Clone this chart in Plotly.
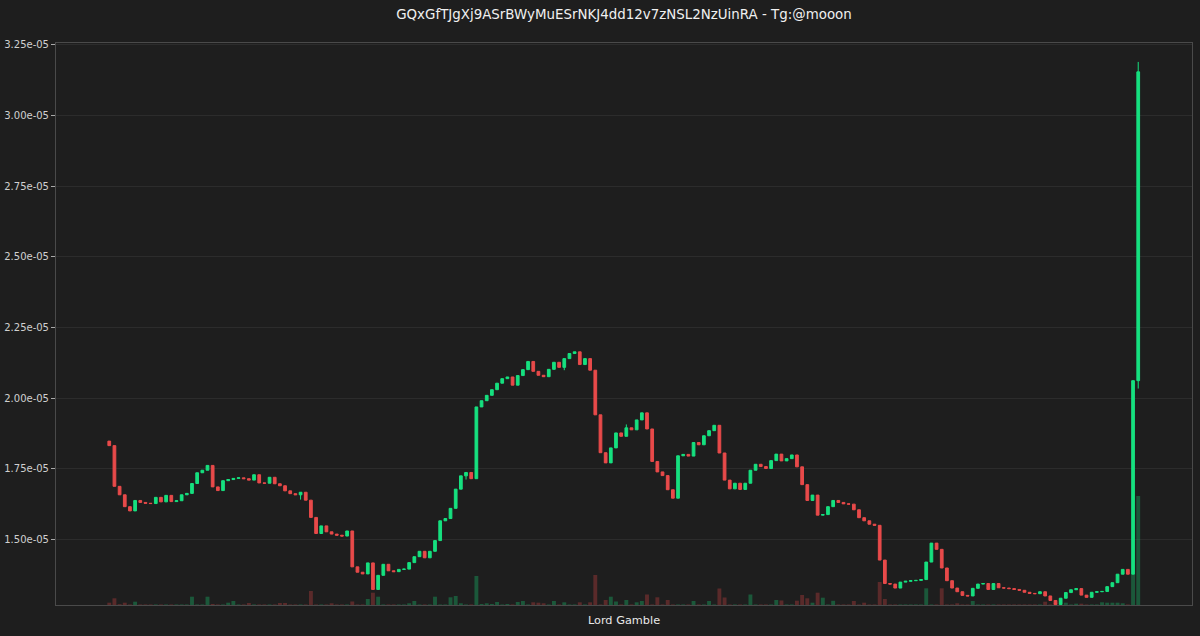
import plotly.graph_objects as go

title_text = "GQxGfTJgXj9ASrBWyMuESrNKJ4dd12v7zNSL2NzUinRA - Tg:@mooon"
xaxis_label = "Lord Gamble"

# prices in units of 1e-5
opens = [
1.848, 1.832, 1.688, 1.658, 1.616, 1.601, 1.638, 1.631, 1.628, 1.627,
1.649, 1.633, 1.656, 1.634, 1.637, 1.658, 1.663, 1.698, 1.736, 1.745,
1.762, 1.686, 1.673, 1.708, 1.712, 1.716, 1.718, 1.715, 1.710, 1.729,
1.700, 1.699, 1.720, 1.697, 1.690, 1.672, 1.662, 1.658, 1.667, 1.639,
1.578, 1.521, 1.548, 1.527, 1.519, 1.515, 1.512, 1.530, 1.403, 1.384,
1.378, 1.417, 1.323, 1.373, 1.412, 1.389, 1.386, 1.394, 1.395, 1.418,
1.439, 1.458, 1.435, 1.458, 1.496, 1.566, 1.574, 1.610, 1.678, 1.725,
1.737, 1.715, 1.969, 1.991, 2.010, 2.030, 2.053, 2.069, 2.075, 2.046,
2.080, 2.101, 2.130, 2.095, 2.081, 2.076, 2.102, 2.127, 2.109, 2.140,
2.158, 2.164, 2.119, 2.140, 2.099, 1.941, 1.807, 1.771, 1.824, 1.877,
1.865, 1.895, 1.888, 1.923, 1.948, 1.891, 1.776, 1.739, 1.726, 1.676,
1.646, 1.796, 1.801, 1.795, 1.843, 1.835, 1.867, 1.885, 1.904, 1.806,
1.710, 1.679, 1.699, 1.677, 1.699, 1.745, 1.766, 1.758, 1.751, 1.779,
1.802, 1.778, 1.786, 1.799, 1.757, 1.694, 1.638, 1.657, 1.586, 1.588,
1.616, 1.638, 1.631, 1.626, 1.625, 1.605, 1.577, 1.566, 1.554, 1.550,
1.427, 1.344, 1.342, 1.328, 1.349, 1.352, 1.354, 1.355, 1.358, 1.420,
1.487, 1.465, 1.399, 1.354, 1.328, 1.315, 1.302, 1.300, 1.327, 1.342,
1.344, 1.323, 1.344, 1.329, 1.328, 1.326, 1.323, 1.320, 1.313, 1.309,
1.308, 1.315, 1.300, 1.284, 1.270, 1.292, 1.312, 1.322, 1.326, 1.303,
1.295, 1.313, 1.315, 1.316, 1.333, 1.347, 1.377, 1.394, 1.377, 2.062,
]

closes = [
1.832, 1.688, 1.658, 1.616, 1.601, 1.638, 1.631, 1.628, 1.627, 1.649,
1.633, 1.656, 1.634, 1.637, 1.658, 1.663, 1.698, 1.736, 1.745, 1.762,
1.686, 1.673, 1.708, 1.712, 1.716, 1.718, 1.715, 1.710, 1.729, 1.700,
1.699, 1.720, 1.697, 1.690, 1.672, 1.662, 1.658, 1.667, 1.639, 1.578,
1.521, 1.548, 1.527, 1.519, 1.515, 1.512, 1.530, 1.403, 1.384, 1.378,
1.417, 1.323, 1.373, 1.412, 1.389, 1.386, 1.394, 1.395, 1.418, 1.439,
1.458, 1.435, 1.458, 1.496, 1.566, 1.574, 1.610, 1.678, 1.725, 1.737,
1.715, 1.969, 1.991, 2.010, 2.030, 2.053, 2.069, 2.075, 2.046, 2.080,
2.101, 2.130, 2.095, 2.081, 2.076, 2.102, 2.127, 2.109, 2.140, 2.158,
2.164, 2.119, 2.140, 2.099, 1.941, 1.807, 1.771, 1.824, 1.877, 1.865,
1.895, 1.888, 1.923, 1.948, 1.891, 1.776, 1.739, 1.726, 1.676, 1.646,
1.796, 1.801, 1.795, 1.843, 1.835, 1.867, 1.885, 1.904, 1.806, 1.710,
1.679, 1.699, 1.677, 1.699, 1.745, 1.766, 1.758, 1.751, 1.779, 1.802,
1.778, 1.786, 1.799, 1.757, 1.694, 1.638, 1.657, 1.586, 1.588, 1.616,
1.638, 1.631, 1.626, 1.625, 1.605, 1.577, 1.566, 1.554, 1.550, 1.427,
1.344, 1.342, 1.328, 1.349, 1.352, 1.354, 1.355, 1.358, 1.420, 1.487,
1.465, 1.399, 1.354, 1.328, 1.315, 1.302, 1.300, 1.327, 1.342, 1.344,
1.323, 1.344, 1.329, 1.328, 1.326, 1.323, 1.320, 1.313, 1.309, 1.308,
1.315, 1.300, 1.284, 1.270, 1.292, 1.312, 1.322, 1.326, 1.303, 1.295,
1.313, 1.315, 1.316, 1.333, 1.347, 1.377, 1.394, 1.377, 2.062, 3.155,
]

highs = [
1.848, 1.832, 1.688, 1.658, 1.616, 1.638, 1.638, 1.631, 1.628, 1.649,
1.649, 1.656, 1.656, 1.637, 1.658, 1.663, 1.698, 1.736, 1.745, 1.762,
1.762, 1.686, 1.708, 1.712, 1.716, 1.718, 1.718, 1.715, 1.729, 1.729,
1.700, 1.720, 1.720, 1.697, 1.690, 1.672, 1.662, 1.667, 1.667, 1.639,
1.578, 1.548, 1.548, 1.527, 1.519, 1.515, 1.530, 1.530, 1.403, 1.384,
1.417, 1.417, 1.373, 1.412, 1.412, 1.389, 1.394, 1.395, 1.418, 1.439,
1.458, 1.458, 1.458, 1.496, 1.566, 1.574, 1.610, 1.678, 1.725, 1.737,
1.737, 1.969, 1.991, 2.010, 2.030, 2.053, 2.069, 2.075, 2.075, 2.080,
2.101, 2.130, 2.130, 2.095, 2.081, 2.102, 2.127, 2.127, 2.140, 2.158,
2.164, 2.164, 2.140, 2.140, 2.099, 1.941, 1.807, 1.824, 1.877, 1.877,
1.907, 1.895, 1.923, 1.948, 1.948, 1.891, 1.776, 1.739, 1.726, 1.676,
1.796, 1.801, 1.801, 1.843, 1.843, 1.867, 1.885, 1.904, 1.904, 1.806,
1.710, 1.699, 1.699, 1.699, 1.745, 1.766, 1.766, 1.758, 1.779, 1.802,
1.802, 1.786, 1.799, 1.799, 1.757, 1.694, 1.657, 1.657, 1.588, 1.616,
1.638, 1.638, 1.631, 1.626, 1.625, 1.605, 1.577, 1.566, 1.554, 1.550,
1.427, 1.344, 1.342, 1.349, 1.352, 1.354, 1.355, 1.358, 1.420, 1.487,
1.487, 1.465, 1.399, 1.354, 1.328, 1.315, 1.302, 1.327, 1.342, 1.344,
1.344, 1.344, 1.344, 1.329, 1.328, 1.326, 1.323, 1.320, 1.313, 1.309,
1.315, 1.315, 1.300, 1.284, 1.292, 1.312, 1.322, 1.326, 1.326, 1.303,
1.313, 1.315, 1.316, 1.333, 1.347, 1.377, 1.394, 1.394, 2.062, 3.190,
]

lows = [
1.832, 1.688, 1.658, 1.616, 1.601, 1.601, 1.631, 1.628, 1.627, 1.627,
1.633, 1.633, 1.634, 1.634, 1.637, 1.658, 1.663, 1.698, 1.736, 1.745,
1.686, 1.673, 1.673, 1.708, 1.712, 1.716, 1.715, 1.710, 1.710, 1.700,
1.699, 1.699, 1.697, 1.690, 1.672, 1.662, 1.658, 1.641, 1.639, 1.578,
1.521, 1.521, 1.527, 1.519, 1.515, 1.512, 1.512, 1.403, 1.384, 1.378,
1.378, 1.323, 1.323, 1.373, 1.389, 1.386, 1.386, 1.394, 1.395, 1.418,
1.439, 1.435, 1.435, 1.458, 1.496, 1.566, 1.574, 1.610, 1.678, 1.712,
1.715, 1.715, 1.969, 1.991, 2.010, 2.030, 2.053, 2.069, 2.046, 2.046,
2.080, 2.101, 2.095, 2.081, 2.076, 2.076, 2.102, 2.109, 2.099, 2.140,
2.158, 2.119, 2.119, 2.099, 1.941, 1.807, 1.771, 1.771, 1.824, 1.865,
1.865, 1.888, 1.888, 1.923, 1.891, 1.776, 1.739, 1.726, 1.676, 1.646,
1.646, 1.796, 1.795, 1.795, 1.835, 1.835, 1.867, 1.885, 1.806, 1.710,
1.679, 1.679, 1.677, 1.677, 1.699, 1.745, 1.758, 1.751, 1.751, 1.779,
1.778, 1.778, 1.786, 1.757, 1.694, 1.638, 1.638, 1.586, 1.586, 1.588,
1.616, 1.631, 1.626, 1.625, 1.605, 1.577, 1.566, 1.554, 1.550, 1.427,
1.344, 1.342, 1.328, 1.328, 1.349, 1.352, 1.354, 1.355, 1.358, 1.420,
1.465, 1.399, 1.354, 1.328, 1.315, 1.302, 1.300, 1.300, 1.327, 1.342,
1.323, 1.323, 1.329, 1.328, 1.326, 1.323, 1.320, 1.313, 1.309, 1.308,
1.308, 1.300, 1.284, 1.270, 1.270, 1.292, 1.312, 1.322, 1.303, 1.295,
1.295, 1.313, 1.315, 1.316, 1.333, 1.347, 1.377, 1.377, 1.377, 2.034,
]

# relative traded volume (unlabelled axis)
volumes = [
2.3, 6.7, 0.8, 2.3, 0.5, 3.3, 0.5, 0.5, 0.5, 0.5,
0.5, 0.5, 0.5, 0.5, 0.5, 0.5, 8.3, 0.5, 0.5, 8.3,
1.0, 0.5, 0.5, 2.3, 4.0, 0.5, 0.5, 2.0, 0.5, 0.5,
0.5, 0.5, 0.5, 2.0, 2.0, 0.5, 0.5, 0.5, 0.5, 14.0,
0.5, 0.5, 0.5, 1.7, 0.5, 0.5, 0.5, 3.5, 0.5, 0.5,
6.0, 12.3, 8.3, 0.5, 0.5, 0.5, 0.5, 0.5, 1.7, 4.0,
0.5, 0.5, 0.5, 8.3, 0.5, 0.5, 7.7, 9.0, 1.7, 0.5,
0.5, 29.0, 1.0, 1.7, 1.0, 3.0, 0.5, 1.0, 0.5, 3.0,
4.0, 0.5, 2.7, 2.3, 1.7, 0.5, 4.0, 0.5, 2.7, 0.5,
0.5, 2.7, 0.5, 2.7, 30.0, 0.5, 5.0, 8.3, 3.5, 0.5,
5.0, 0.5, 2.7, 4.0, 10.5, 0.5, 7.7, 0.5, 5.0, 0.5,
0.5, 0.5, 0.5, 4.0, 0.5, 0.5, 4.0, 0.5, 16.5, 7.5,
0.5, 0.5, 0.5, 0.5, 10.5, 0.5, 0.5, 0.5, 0.5, 5.0,
4.5, 0.5, 0.5, 4.3, 10.0, 6.7, 2.3, 12.3, 7.3, 0.5,
4.2, 0.5, 0.5, 0.5, 4.0, 0.5, 2.3, 0.5, 0.5, 23.0,
6.0, 0.5, 0.5, 0.5, 0.5, 0.5, 0.5, 0.5, 16.7, 0.5,
0.5, 16.7, 0.5, 0.5, 1.7, 0.5, 0.5, 4.0, 0.5, 0.5,
0.5, 0.5, 0.5, 0.5, 0.5, 0.5, 0.5, 0.5, 0.5, 0.5,
0.5, 3.3, 0.5, 1.7, 0.5, 2.3, 0.5, 1.3, 1.3, 0.5,
0.5, 0.5, 2.7, 2.3, 2.3, 2.3, 1.7, 0.5, 30.7, 109.0,
]

tick_vals = [1.50, 1.75, 2.00, 2.25, 2.50, 2.75, 3.00, 3.25]
tick_text = ["1.50e-05", "1.75e-05", "2.00e-05", "2.25e-05",
             "2.50e-05", "2.75e-05", "3.00e-05", "3.25e-05"]

SCALE = 1e-5
UP = "#16e07f"
DOWN = "#e84a4a"
UP_VOL = "rgba(22,224,127,0.30)"
DOWN_VOL = "rgba(232,74,74,0.30)"
BG = "#1e1e1e"

n = len(closes)
xs = list(range(n))
o = [v * SCALE for v in opens]
h = [v * SCALE for v in highs]
l = [v * SCALE for v in lows]
c = [v * SCALE for v in closes]
vol_colors = [UP_VOL if closes[i] >= opens[i] else DOWN_VOL for i in range(n)]

fig = go.Figure()
fig.add_trace(go.Bar(
    x=xs, y=volumes, marker=dict(color=vol_colors, line=dict(width=0)),
    width=0.75, yaxis="y", hoverinfo="skip", showlegend=False,
))
fig.add_trace(go.Candlestick(
    x=xs, open=o, high=h, low=l, close=c, yaxis="y2",
    increasing=dict(line=dict(color=UP, width=1), fillcolor=UP),
    decreasing=dict(line=dict(color=DOWN, width=1), fillcolor=DOWN),
    whiskerwidth=0, showlegend=False,
))

fig.update_layout(
    width=1200, height=636,
    paper_bgcolor=BG, plot_bgcolor=BG,
    margin=dict(l=56, r=8, t=43, b=31, autoexpand=False),
    font=dict(family="DejaVu Sans", color="#d8d8d8"),
    title=dict(text=title_text, x=0.52, xanchor="center", y=0.978, yanchor="middle",
               font=dict(size=13.4, color="#f0f0f0", family="DejaVu Sans")),
    boxgap=0.25,
    xaxis=dict(
        range=[-10.3, n - 1 + 10.4], rangeslider=dict(visible=False),
        showticklabels=False, ticks="", showgrid=False, zeroline=False,
        showline=True, mirror=True, linecolor="#4a4a4a", linewidth=1,
        title=dict(text=xaxis_label, standoff=11, font=dict(size=11.3, color="#e8e8e8")),
    ),
    yaxis=dict(
        range=[0, 562], visible=False, showgrid=False, zeroline=False,
    ),
    yaxis2=dict(
        overlaying="y", side="left",
        range=[1.268 * SCALE, 3.257 * SCALE],
        tickvals=[v * SCALE for v in tick_vals], ticktext=tick_text,
        tickfont=dict(size=10, color="#d0d0d0"),
        ticks="outside", ticklen=4, tickcolor="#aaaaaa",
        showgrid=True, gridcolor="#2c2c2c", gridwidth=1, zeroline=False,
        showline=True, mirror=True, linecolor="#4a4a4a", linewidth=1,
    ),
)

fig.write_html("out.html", config={"displayModeBar": False},
               post_script="document.body.style.margin='0';")
